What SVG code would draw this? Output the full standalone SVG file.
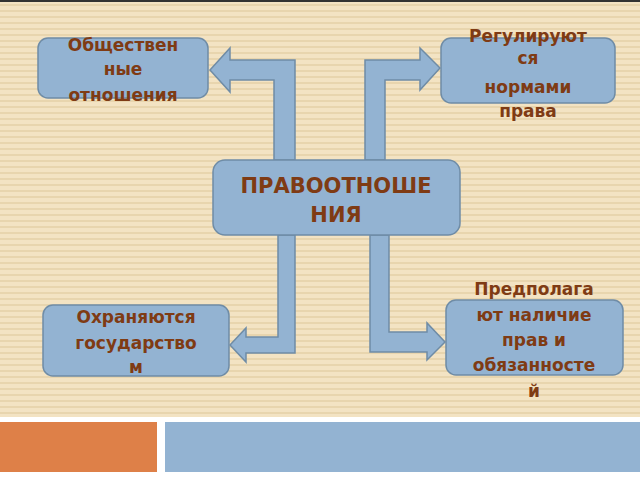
<svg xmlns="http://www.w3.org/2000/svg" width="640" height="480" viewBox="0 0 640 480">
<defs>
<pattern id="st" width="8" height="6" patternUnits="userSpaceOnUse">
<rect width="8" height="6" fill="#f3e3c3"/>
<rect y="4" width="8" height="2" fill="#e8d5ae"/>
</pattern>
</defs>
<style>
.n{fill:#93b3d2;stroke:#6f8ca6;stroke-width:1.5}
.a{fill:#93b3d2;stroke:#6f8ca6;stroke-width:1.5}
text{font-family:"DejaVu Sans",sans-serif;font-weight:bold;fill:#7f3b14;text-anchor:middle;font-size:17px}
</style>
<rect width="640" height="480" fill="#ffffff"/>
<rect width="640" height="417" fill="url(#st)"/>
<rect width="640" height="2" fill="#333"/>
<rect x="0" y="422" width="157" height="50" fill="#de8048"/>
<rect x="165" y="422" width="475" height="50" fill="#93b3d2"/>
<g id="connectors">
<path class="a" d="M274,160 V80 H230 V92 L210,70 L230,48 V60 H295 V160 Z"/>
<path class="a" d="M365,160 V60 H420 V48 L440,68 L420,90 V80 H385 V160 Z"/>
<path class="a" d="M278,235 V337 H246 V328 L230,345 L246,362 V353 H295 V235 Z"/>
<path class="a" d="M370,235 V352 H427 V360 L445,342 L427,323 V332 H389 V235 Z"/>
</g>
<g id="n1"><rect class="n" x="38" y="38" width="170" height="60" rx="10"/>
<text x="123" y="51">Обществен</text><text x="123" y="75">ные</text><text x="123" y="101">отношения</text></g>
<g id="n2"><rect class="n" x="441" y="38" width="174" height="65" rx="10"/>
<text x="528" y="42">Регулируют</text><text x="528" y="64">ся</text><text x="528" y="93">нормами</text><text x="528" y="117">права</text></g>
<g id="n3"><rect class="n" x="213" y="160" width="247" height="75" rx="12"/>
<text x="336" y="193" style="font-size:21px">ПРАВООТНОШЕ</text><text x="336" y="222" style="font-size:21px">НИЯ</text></g>
<g id="n4"><rect class="n" x="43" y="305" width="186" height="71" rx="10"/>
<text x="136" y="323">Охраняются</text><text x="136" y="349">государство</text><text x="136" y="373">м</text></g>
<g id="n5"><rect class="n" x="446" y="300" width="177" height="75" rx="10"/>
<text x="534" y="295">Предполага</text><text x="534" y="321">ют наличие</text><text x="534" y="346">прав  и</text><text x="534" y="371">обязанносте</text><text x="534" y="397">й</text></g>
</svg>
